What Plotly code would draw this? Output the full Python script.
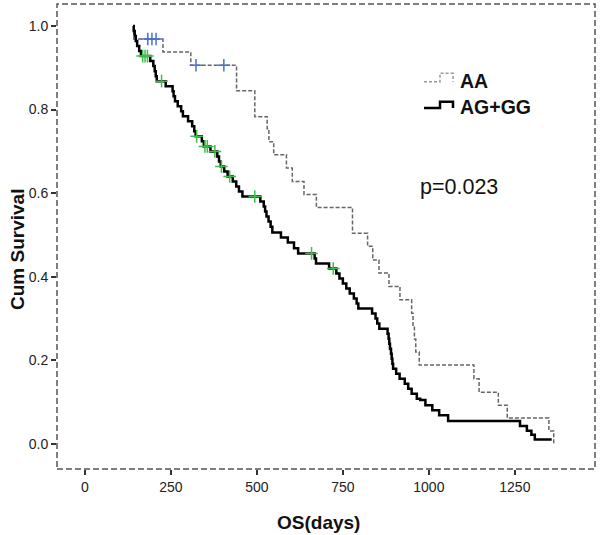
import numpy as np
import plotly.graph_objects as go

# ---------------- data ----------------
x_ticks = [0, 250, 500, 750, 1000, 1250]
y_ticks = [0.0, 0.2, 0.4, 0.6, 0.8, 1.0]

# AA group: event times (days) and survival after each event
aa_time = [140, 142, 227, 308, 441, 494, 530, 535, 549, 586, 603, 637, 673,
           778, 822, 837, 855, 884, 916, 950, 954, 958, 962, 972,
           1131, 1146, 1202, 1228, 1349, 1363]
aa_surv = [1.0, 0.969, 0.938, 0.906, 0.845, 0.783, 0.754, 0.723, 0.692, 0.660, 0.628, 0.597, 0.566,
           0.504, 0.473, 0.440, 0.409, 0.377, 0.345, 0.313, 0.282, 0.251, 0.220, 0.189,
           0.156, 0.124, 0.093, 0.062, 0.031, 0.0]
aa_censor = [183, 195, 207, 323, 404]

# AG+GG group
ag_time = [140, 142, 145, 148, 152, 158, 163, 190, 199, 203, 206, 209,
           235, 255, 258, 262, 270, 280, 285, 300, 312, 318, 322,
           340, 346, 365, 385, 390, 395, 405, 415, 430, 440, 448, 458,
           510, 520, 524, 528, 534, 540, 545, 570, 590, 608, 620,
           668, 672, 710, 731, 740, 750, 760, 770, 782, 790, 795,
           835, 845, 850, 856, 880, 883, 885, 887, 890, 892, 894, 896,
           905, 915, 930, 940, 950, 965, 975, 990, 1010, 1030, 1056,
           1265, 1285, 1298, 1308, 1357]
ag_surv = [1.0, 0.988, 0.976, 0.964, 0.952, 0.940, 0.928, 0.916, 0.904, 0.892, 0.880, 0.868,
           0.856, 0.844, 0.832, 0.820, 0.808, 0.796, 0.784, 0.772, 0.760, 0.748, 0.736,
           0.724, 0.712, 0.700, 0.688, 0.676, 0.664, 0.652, 0.640, 0.628, 0.616, 0.604, 0.592,
           0.580, 0.568, 0.556, 0.544, 0.532, 0.520, 0.506, 0.494, 0.482, 0.468, 0.456,
           0.444, 0.432, 0.420, 0.408, 0.396, 0.384, 0.372, 0.360, 0.348, 0.336, 0.324,
           0.312, 0.300, 0.288, 0.276, 0.264, 0.252, 0.240, 0.228, 0.216, 0.204, 0.192, 0.180,
           0.168, 0.156, 0.144, 0.132, 0.120, 0.108, 0.105, 0.093, 0.081, 0.069, 0.055,
           0.043, 0.032, 0.022, 0.011, 0.011]
ag_censor = [168, 175, 182, 223, 325, 349, 356, 378, 397, 421, 494, 659, 722]

aa_label = "AA"
ag_label = "AG+GG"
p_text = "p=0.023"
x_title = "OS(days)"
y_title = "Cum Survival"

# ---------------- figure ----------------
W, H = 600, 535
L, R, T, B = 57, 5, 4, 66
pw, ph = W - L - R, H - T - B


def px(xp):
    return (xp - L) / pw


def py(yp):
    return (H - B - yp) / ph


def surv_at(times, survs, t):
    i = np.searchsorted(np.array(times), t, side="right") - 1
    return survs[max(i, 0)]


fig = go.Figure()

fig.add_trace(go.Scatter(
    x=aa_time, y=aa_surv, mode="lines", line_shape="hv",
    line=dict(color="#666666", width=1.5, dash="4px,2px"),
    name=aa_label, showlegend=False, hoverinfo="skip"))
fig.add_trace(go.Scatter(
    x=ag_time, y=ag_surv, mode="lines", line_shape="hv",
    line=dict(color="#000000", width=2.5),
    name=ag_label, showlegend=False, hoverinfo="skip"))

fig.add_trace(go.Scatter(
    x=aa_censor, y=[surv_at(aa_time, aa_surv, t) for t in aa_censor],
    mode="markers",
    marker=dict(symbol="cross-thin", size=9, line=dict(color="#4a6fd0", width=1.5)),
    showlegend=False, hoverinfo="skip"))
fig.add_trace(go.Scatter(
    x=ag_censor, y=[surv_at(ag_time, ag_surv, t) for t in ag_censor],
    mode="markers",
    marker=dict(symbol="cross-thin", size=9, line=dict(color="#3cbf4a", width=1.5)),
    showlegend=False, hoverinfo="skip"))

font_fam = "Liberation Sans, Arial, sans-serif"

fig.update_layout(
    width=W, height=H,
    margin=dict(l=L, r=R, t=T, b=B),
    paper_bgcolor="white", plot_bgcolor="white",
    font=dict(family=font_fam, color="#222222"),
    xaxis=dict(range=[-81, 1483], tickvals=x_ticks, ticks="outside", ticklen=5,
               tickwidth=1.5, tickcolor="#333333", showgrid=False, zeroline=False,
               showline=False, tickfont=dict(size=14, color="#222222")),
    yaxis=dict(range=[-0.0598, 1.0526], tickvals=y_ticks, tickformat=".1f",
               ticks="outside", ticklen=5, tickwidth=1.5, tickcolor="#333333",
               showgrid=False, zeroline=False, showline=False,
               tickfont=dict(size=14, color="#222222")),
    shapes=[
        dict(type="rect", xref="paper", yref="paper", x0=0, x1=1, y0=0, y1=1,
             line=dict(color="#555555", width=1.5, dash="6px,3px"), layer="above"),
        # legend glyphs
        dict(type="path", xref="paper", yref="paper",
             path=f"M {px(424)} {py(81.7)} L {px(440)} {py(81.7)} L {px(440)} {py(73.3)} "
                  f"L {px(453)} {py(73.3)} L {px(453)} {py(81.7)}",
             line=dict(color="#999999", width=1.5, dash="3px,2px")),
        dict(type="path", xref="paper", yref="paper",
             path=f"M {px(424)} {py(108)} L {px(440)} {py(108)} L {px(440)} {py(101.7)} "
                  f"L {px(453)} {py(101.7)} L {px(453)} {py(108)}",
             line=dict(color="#000000", width=2.5)),
    ],
    annotations=[
        dict(text=f"<b>{aa_label}</b>", xref="paper", yref="paper", x=px(458), y=py(80.7),
             xanchor="left", yanchor="middle", showarrow=False,
             font=dict(size=19.5, color="#111111")),
        dict(text=f"<b>{ag_label}</b>", xref="paper", yref="paper", x=px(458), y=py(106.7),
             xanchor="left", yanchor="middle", showarrow=False,
             font=dict(size=19.5, color="#111111")),
        dict(text=p_text, xref="paper", yref="paper", x=px(418), y=py(186.7),
             xanchor="left", yanchor="middle", showarrow=False,
             font=dict(size=21.5, color="#111111")),
        dict(text=f"<b>{x_title}</b>", xref="paper", yref="paper", x=px(318), y=py(522),
             xanchor="center", yanchor="middle", showarrow=False,
             font=dict(size=19, color="#111111")),
        dict(text=f"<b>{y_title}</b>", xref="paper", yref="paper", x=px(17), y=py(250),
             xanchor="center", yanchor="middle", showarrow=False, textangle=-90,
             font=dict(size=19, color="#111111")),
    ],
)

fig.write_html("out.html",
               config={"displayModeBar": False},
               post_script="document.body.style.margin='0';document.body.style.overflow='hidden';")
